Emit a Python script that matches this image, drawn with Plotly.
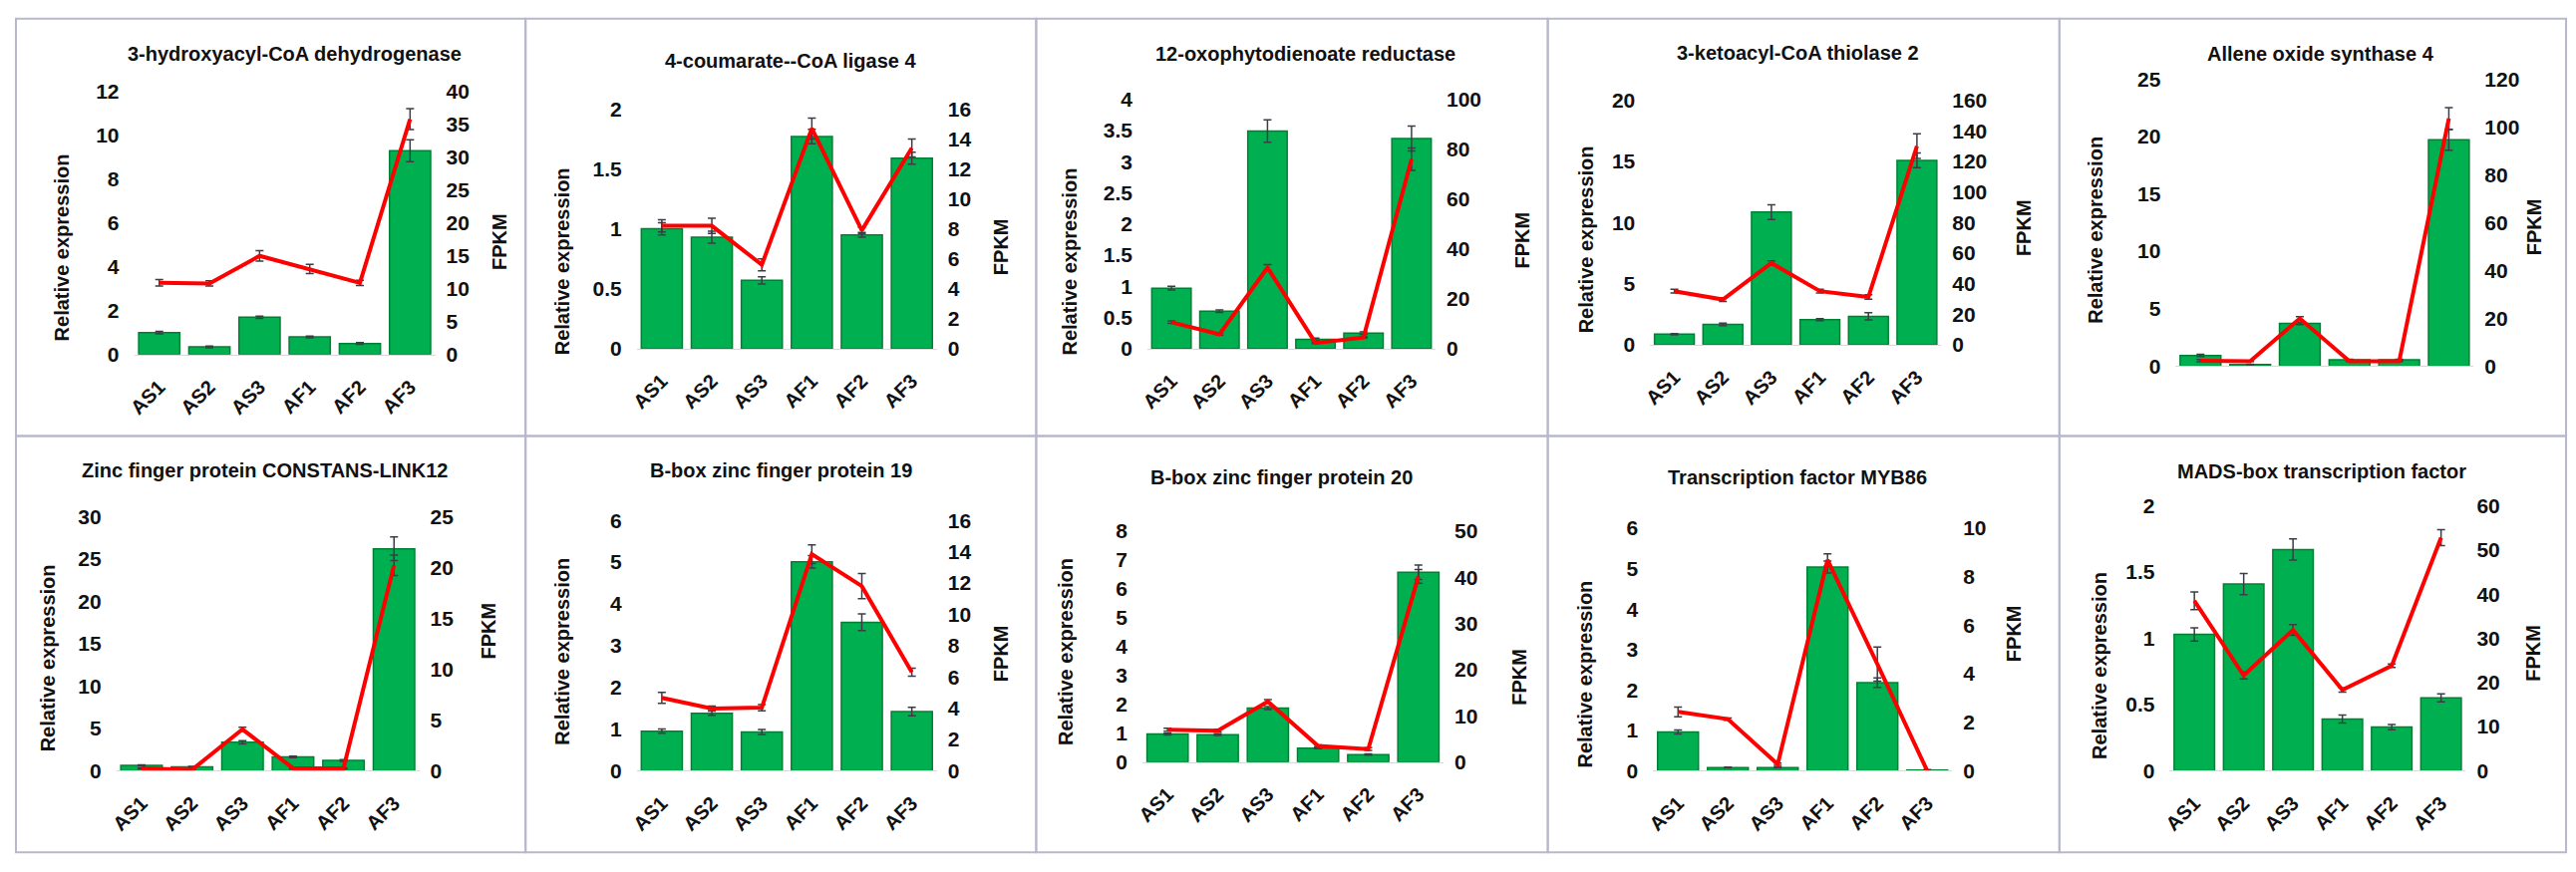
import plotly.graph_objects as go

W, H = 2584, 875

categories = ["AS1", "AS2", "AS3", "AF1", "AF2", "AF3"]

titles = [
    "3-hydroxyacyl-CoA dehydrogenase",
    "4-coumarate--CoA ligase 4",
    "12-oxophytodienoate reductase",
    "3-ketoacyl-CoA thiolase 2",
    "Allene oxide synthase 4",
    "Zinc finger protein CONSTANS-LINK12",
    "B-box zinc finger protein 19",
    "B-box zinc finger protein 20",
    "Transcription factor MYB86",
    "MADS-box transcription factor",
]

# Relative expression (bars, left axis) and FPKM (line, right axis)
hadh_rel = [1.0, 0.35, 1.7, 0.8, 0.5, 9.3]
hadh_rel_err = [0.06, 0.04, 0.05, 0.04, 0.04, 0.5]
hadh_fpkm = [10.9, 10.8, 15.0, 13.0, 10.9, 35.8]
hadh_fpkm_err = [0.5, 0.4, 0.8, 0.7, 0.4, 1.6]

cl4_rel = [1.0, 0.93, 0.57, 1.77, 0.95, 1.59]
cl4_rel_err = [0.05, 0.05, 0.03, 0.06, 0.02, 0.05]
cl4_fpkm = [8.2, 8.2, 5.6, 14.7, 7.9, 13.4]
cl4_fpkm_err = [0.4, 0.5, 0.4, 0.7, 0.2, 0.6]

opr_rel = [0.97, 0.6, 3.49, 0.15, 0.25, 3.37]
opr_rel_err = [0.03, 0.02, 0.18, 0.02, 0.02, 0.2]
opr_fpkm = [10.6, 5.8, 32.5, 2.3, 4.5, 76.0]
opr_fpkm_err = [0.5, 0.4, 1.2, 0.3, 0.3, 4.5]

kat_rel = [0.87, 1.67, 10.85, 2.06, 2.33, 15.08]
kat_rel_err = [0.05, 0.1, 0.6, 0.08, 0.3, 0.6]
kat_fpkm = [35.1, 29.6, 53.5, 35.1, 31.3, 130.0]
kat_fpkm_err = [1.2, 1.2, 1.5, 1.2, 1.5, 8.0]

aos_rel = [0.93, 0.14, 3.72, 0.56, 0.56, 19.7]
aos_rel_err = [0.1, 0.02, 0.1, 0.03, 0.03, 0.9]
aos_fpkm = [2.3, 2.0, 19.9, 2.0, 2.0, 103.5]
aos_fpkm_err = [0.5, 0.1, 0.8, 0.1, 0.1, 4.5]

col_rel = [0.65, 0.46, 3.36, 1.64, 1.22, 26.2]
col_rel_err = [0.05, 0.05, 0.2, 0.1, 0.1, 1.4]
col_fpkm = [0.25, 0.1, 4.08, 0.25, 0.25, 20.2]
col_fpkm_err = [0.05, 0.05, 0.2, 0.05, 0.05, 1.0]

bbx19_rel = [0.95, 1.38, 0.93, 5.01, 3.56, 1.42]
bbx19_rel_err = [0.05, 0.05, 0.06, 0.15, 0.2, 0.1]
bbx19_fpkm = [4.66, 3.98, 4.04, 13.84, 11.8, 6.3]
bbx19_fpkm_err = [0.35, 0.15, 0.2, 0.6, 0.8, 0.25]

bbx20_rel = [0.97, 0.95, 1.87, 0.48, 0.26, 6.57]
bbx20_rel_err = [0.03, 0.03, 0.05, 0.02, 0.02, 0.25]
bbx20_fpkm = [7.0, 6.8, 13.1, 3.5, 2.8, 40.2]
bbx20_fpkm_err = [0.3, 0.3, 0.4, 0.2, 0.3, 1.5]

myb_rel = [0.96, 0.08, 0.08, 5.04, 2.18, 0.02]
myb_rel_err = [0.05, 0.01, 0.01, 0.15, 0.12, 0.01]
myb_fpkm = [2.43, 2.13, 0.27, 8.69, 4.4, 0.0]
myb_fpkm_err = [0.2, 0.05, 0.05, 0.25, 0.7, 0.0]

mads_rel = [1.03, 1.41, 1.67, 0.39, 0.33, 0.55]
mads_rel_err = [0.05, 0.08, 0.08, 0.03, 0.02, 0.03]
mads_fpkm = [38.5, 21.6, 31.9, 18.3, 23.8, 52.8]
mads_fpkm_err = [2.0, 0.8, 1.2, 0.5, 0.4, 1.8]

# axis scales: (left max, left step, right max, right step)
left_max = [12, 2, 4, 20, 25, 30, 6, 8, 6, 2]
left_step = [2, 0.5, 0.5, 5, 5, 5, 1, 1, 1, 0.5]
right_max = [40, 16, 100, 160, 120, 25, 16, 50, 10, 60]
right_step = [5, 2, 20, 20, 20, 5, 2, 10, 2, 10]

panels = [
    (hadh_rel, hadh_rel_err, hadh_fpkm, hadh_fpkm_err),
    (cl4_rel, cl4_rel_err, cl4_fpkm, cl4_fpkm_err),
    (opr_rel, opr_rel_err, opr_fpkm, opr_fpkm_err),
    (kat_rel, kat_rel_err, kat_fpkm, kat_fpkm_err),
    (aos_rel, aos_rel_err, aos_fpkm, aos_fpkm_err),
    (col_rel, col_rel_err, col_fpkm, col_fpkm_err),
    (bbx19_rel, bbx19_rel_err, bbx19_fpkm, bbx19_fpkm_err),
    (bbx20_rel, bbx20_rel_err, bbx20_fpkm, bbx20_fpkm_err),
    (myb_rel, myb_rel_err, myb_fpkm, myb_fpkm_err),
    (mads_rel, mads_rel_err, mads_fpkm, mads_fpkm_err),
]

# ---- layout geometry (pixels) ----
plot_boxes = [  # x0, x1, ytop, yzero
    (126, 429, 82, 353),
    (632, 934, 100, 347),
    (1146, 1436, 90, 347),
    (1652, 1945, 91, 343),
    (2181, 2481, 69, 365),
    (108, 413, 520, 782),
    (632, 934, 524, 782),
    (1141, 1444, 535, 773),
    (1655, 1956, 532, 782),
    (2175, 2473, 509, 782),
]
title_pos = [(287, 43), (787, 50), (1305, 43), (1801, 42), (2327, 43),
             (257, 472), (777, 472), (1281, 480), (1800, 480), (2328, 473)]
left_title_pos = [(53, 243), (557, 257), (1068, 257), (1587, 234), (2100, 225),
                  (40, 666), (557, 659), (1063, 659), (1587, 682), (2105, 674)]
right_title_pos = [(493, 237), (998, 242), (1523, 235), (2028, 222), (2542, 222),
                   (483, 638), (998, 661), (1520, 685), (2018, 640), (2540, 661)]
show_xticks = [True, True, True, True, False, True, True, True, True, True]

vlines = [7, 520, 1034, 1549, 2064, 2574]
hlines = [7, 437, 866]

FONT = "Liberation Sans, Arial, sans-serif"
BAR_GREEN = "rgb(0,176,80)"
BAR_EDGE = "rgb(0,128,50)"
RED = "rgb(255,0,0)"
ERR = "rgb(60,60,70)"
TXT = "#111"


def px(x):
    return x / W


def py(y):
    return 1 - y / H


def bfont(size):
    return dict(family=FONT, size=size, color=TXT, weight="bold")


fig = go.Figure()
layout = dict(
    width=W, height=H,
    margin=dict(l=0, r=0, t=0, b=0),
    paper_bgcolor="white", plot_bgcolor="white",
    showlegend=False, bargap=0.18,
    font=dict(family=FONT, color="black"),
    annotations=[], shapes=[],
)

for i, (rel, rel_err, fpkm, fpkm_err) in enumerate(panels):
    n = i + 1
    xa = "x" if n == 1 else f"x{n}"
    ya_l = f"y{2 * n - 1}" if n > 1 else "y"
    ya_r = f"y{2 * n}"
    fig.add_trace(go.Bar(
        x=categories, y=rel, xaxis=xa, yaxis=ya_l,
        marker=dict(color=BAR_GREEN, line=dict(color=BAR_EDGE, width=1.5)),
        error_y=dict(type="data", array=rel_err, color=ERR, thickness=1.5, width=4),
    ))
    fig.add_trace(go.Scatter(
        x=categories, y=fpkm, xaxis=xa, yaxis=ya_r, mode="lines",
        line=dict(color=RED, width=4),
        error_y=dict(type="data", array=fpkm_err, color=ERR, thickness=1.5, width=4),
    ))
    x0, x1, yt, yz = plot_boxes[i]
    xkey = "xaxis" if n == 1 else f"xaxis{n}"
    ylkey = "yaxis" if n == 1 else f"yaxis{2 * n - 1}"
    yrkey = f"yaxis{2 * n}"
    layout[xkey] = dict(
        domain=[px(x0), px(x1)], anchor=ya_l, type="category",
        range=[-0.5, 5.5], showline=True, linecolor="#d8d8d8", linewidth=1,
        showgrid=False, ticks="", tickangle=-45, showticklabels=show_xticks[i],
        tickfont=bfont(20), ticklabelstandoff=12,
    )
    layout[ylkey] = dict(
        domain=[py(yz), py(yt)], anchor=xa, range=[0, left_max[i]],
        dtick=left_step[i], tick0=0, showgrid=False, zeroline=False,
        showline=False, ticks="", tickfont=bfont(21), ticklabelstandoff=14,
    )
    layout[yrkey] = dict(
        overlaying=ya_l, side="right", anchor=xa, range=[0, right_max[i]],
        dtick=right_step[i], tick0=0, showgrid=False, zeroline=False,
        showline=False, ticks="", tickfont=bfont(21), ticklabelstandoff=10,
    )
    tx, ty = title_pos[i]
    layout["annotations"].append(dict(
        x=px(tx), y=py(ty), xref="paper", yref="paper", text=titles[i],
        showarrow=False, xanchor="center", yanchor="middle", font=bfont(20),
    ))
    lx, ly = left_title_pos[i]
    layout["annotations"].append(dict(
        x=px(lx), y=py(ly), xref="paper", yref="paper", text="Relative expression",
        showarrow=False, textangle=-90, xanchor="center", yanchor="middle",
        font=bfont(20),
    ))
    rx, ry = right_title_pos[i]
    layout["annotations"].append(dict(
        x=px(rx), y=py(ry), xref="paper", yref="paper", text="FPKM",
        showarrow=False, textangle=-90, xanchor="center", yanchor="middle",
        font=bfont(20),
    ))

for r in range(2):
    for c in range(5):
        layout["shapes"].append(dict(
            type="rect", xref="paper", yref="paper",
            x0=px(vlines[c]), x1=px(vlines[c + 1]),
            y0=py(hlines[r + 1]), y1=py(hlines[r]),
            line=dict(color="#b8b8cc", width=2), fillcolor="rgba(0,0,0,0)",
            layer="below",
        ))

fig.update_layout(**layout)
fig.write_html(
    "out.html",
    config={"displayModeBar": False},
    post_script="document.body.style.margin='0';document.body.style.overflow='hidden';",
)
